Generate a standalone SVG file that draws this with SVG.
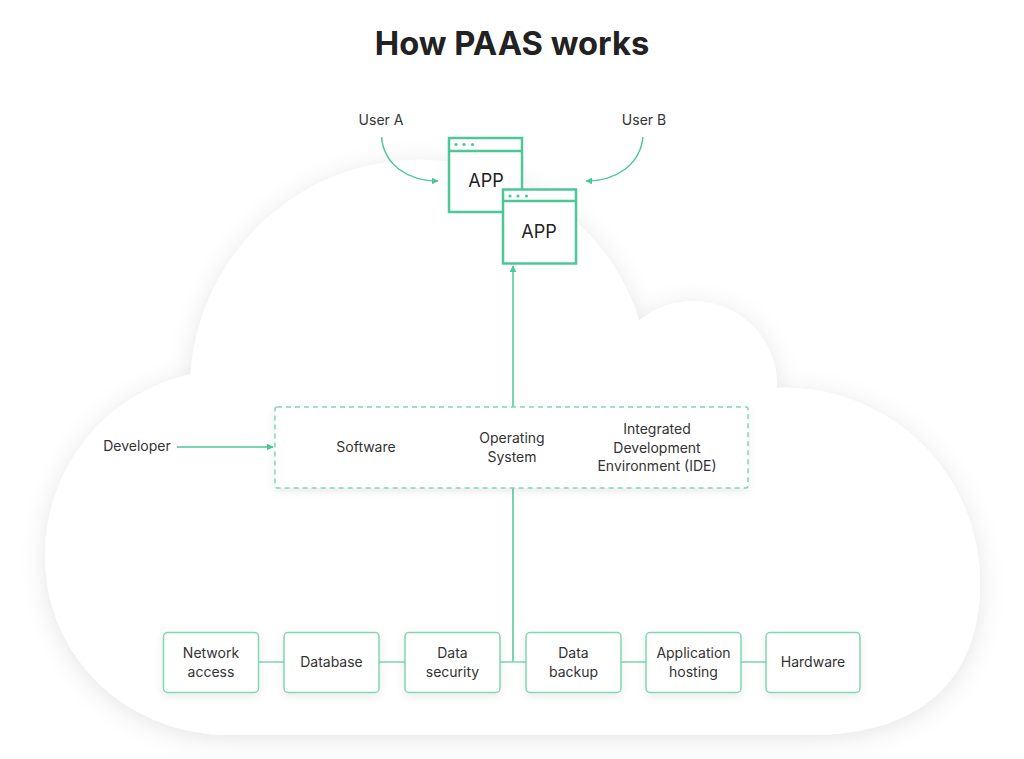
<svg xmlns="http://www.w3.org/2000/svg" width="1024" height="759" viewBox="0 0 1024 759">
<defs>
<filter id="cloudShadow" x="-10%" y="-10%" width="120%" height="125%">
<feDropShadow dx="0" dy="4" stdDeviation="12" flood-color="#000" flood-opacity="0.10"/>
</filter>
<filter id="boxShadow" x="-20%" y="-20%" width="140%" height="150%">
<feDropShadow dx="0" dy="3" stdDeviation="4" flood-color="#000" flood-opacity="0.08"/>
</filter>
<marker id="arrow" viewBox="0 0 10 10" refX="9" refY="5" markerWidth="7" markerHeight="7" orient="auto-start-reverse" markerUnits="userSpaceOnUse">
<path d="M0,0 L10,5 L0,10 z" fill="#4cc795"/>
</marker>
<style>
.t{font-family:Inter,"Liberation Sans",sans-serif;font-size:14px;fill:#333;text-anchor:middle}
.title{font-family:Inter,"Liberation Sans",sans-serif;font-size:32.7px;font-weight:700;fill:#222;text-anchor:middle}
.win{fill:#fff;stroke:#4cc795;stroke-width:2.5}
.dot{fill:#4cc795}
.app{font-family:Inter,"Liberation Sans",sans-serif;font-size:18px;fill:#222;text-anchor:middle}
.box{fill:#fff;stroke:#7fd8b2;stroke-width:1.5}
.conn{fill:none;stroke:#4cc795;stroke-width:1.5}
.link{fill:none;stroke:#7fd8b2;stroke-width:1.5}
</style>
</defs>
<rect width="1024" height="759" fill="#fff"/>
<g id="cloud">
<path filter="url(#cloudShadow)" fill="#fff" d="M 230 735 C 130 735 45 660 45 555 A 185 185 0 0 1 190.5 374.3 A 230 230 0 0 1 639.3 320.6 A 84 84 0 0 1 777 388 A 195 195 0 0 1 980 583 C 980 680 920 735 810 735 Z"/>
</g>
<text class="title" x="512" y="55">How PAAS works</text>
<g id="connectors">
<path class="conn" d="M 381.5 137 C 384 165 408 181 438 181" marker-end="url(#arrow)"/>
<path class="conn" d="M 643 137 C 640 165 616 181 586 181" marker-end="url(#arrow)"/>
<path class="conn" d="M 513 407 L 513 266" marker-end="url(#arrow)"/>
<path class="conn" d="M 177 447 L 273 447" marker-end="url(#arrow)"/>
<path class="conn" d="M 513 488 L 513 662"/>
<path class="link" d="M 258 662 H 284 M 379 662 H 405 M 500 662 H 526 M 621 662 H 646 M 741 662 H 766"/>
</g>
<g id="userA"><text class="t" x="381" y="125">User A</text></g>
<g id="userB"><text class="t" x="644" y="125">User B</text></g>
<g id="developer"><text class="t" x="137" y="451">Developer</text></g>
<g id="app1">
<rect class="win" x="449" y="138" width="73" height="74"/>
<line x1="449" y1="151" x2="522" y2="151" stroke="#4cc795" stroke-width="2.5"/>
<circle class="dot" cx="456" cy="144.5" r="1.6"/><circle class="dot" cx="464" cy="144.5" r="1.6"/><circle class="dot" cx="472.5" cy="144.5" r="1.6"/>
<text class="app" x="486" y="187">APP</text>
</g>
<g id="app2">
<rect class="win" x="503" y="189.5" width="73" height="74"/>
<line x1="503" y1="201" x2="576" y2="201" stroke="#4cc795" stroke-width="2.5"/>
<circle class="dot" cx="510" cy="196" r="1.6"/><circle class="dot" cx="518" cy="196" r="1.6"/><circle class="dot" cx="526.5" cy="196" r="1.6"/>
<text class="app" x="539" y="238">APP</text>
</g>
<g id="platform">
<rect x="275" y="407" width="473" height="81" rx="2" fill="#fff" stroke="#7fd8b2" stroke-width="1.5" stroke-dasharray="5,4" filter="url(#boxShadow)"/>
<text class="t" x="366" y="452">Software</text>
<text class="t" x="512" y="443">Operating</text>
<text class="t" x="512" y="462">System</text>
<text class="t" x="657" y="434">Integrated</text>
<text class="t" x="657" y="453">Development</text>
<text class="t" x="657" y="471">Environment (IDE)</text>
</g>
<g id="network"><rect class="box" x="163.5" y="632.5" width="95" height="60" rx="4" filter="url(#boxShadow)"/><text class="t" x="211" y="658">Network</text><text class="t" x="211" y="677">access</text></g>
<g id="database"><rect class="box" x="284" y="632.5" width="95" height="60" rx="4" filter="url(#boxShadow)"/><text class="t" x="331.5" y="667">Database</text></g>
<g id="security"><rect class="box" x="405" y="632.5" width="95" height="60" rx="4" filter="url(#boxShadow)"/><text class="t" x="452.5" y="658">Data</text><text class="t" x="452.5" y="677">security</text></g>
<g id="backup"><rect class="box" x="526" y="632.5" width="95" height="60" rx="4" filter="url(#boxShadow)"/><text class="t" x="573.5" y="658">Data</text><text class="t" x="573.5" y="677">backup</text></g>
<g id="hosting"><rect class="box" x="646" y="632.5" width="95" height="60" rx="4" filter="url(#boxShadow)"/><text class="t" x="693.5" y="658">Application</text><text class="t" x="693.5" y="677">hosting</text></g>
<g id="hardware"><rect class="box" x="766" y="632.5" width="94" height="60" rx="4" filter="url(#boxShadow)"/><text class="t" x="813" y="667">Hardware</text></g>
</svg>
